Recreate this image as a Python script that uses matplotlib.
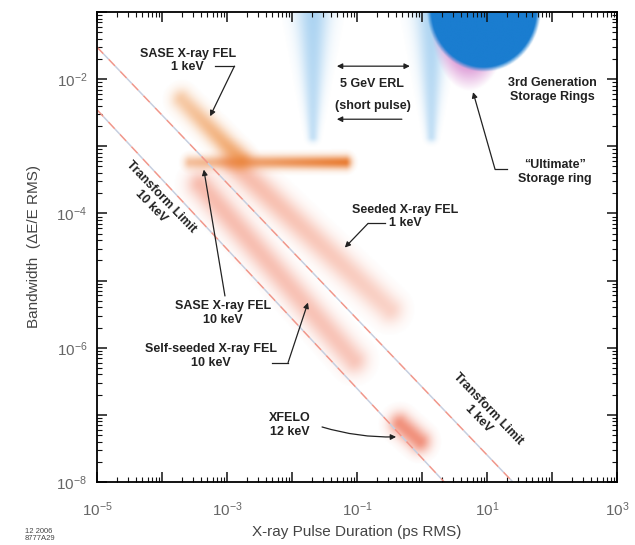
import numpy as np
import matplotlib
matplotlib.use("Agg")
import matplotlib.pyplot as plt
from matplotlib.ticker import FixedLocator, LogLocator, FuncFormatter, NullFormatter

plt.rcParams["font.family"] = ["Liberation Sans", "DejaVu Sans"]
plt.rcParams["mathtext.default"] = "regular"

# axis ranges: pulse duration (ps RMS) and relative bandwidth (dE/E RMS)
t_range = (1e-5, 1e3)
bw_range = (1e-8, 1e-1)

# transform-limit lines (end points)
tl_t = [[1e-5, 25.0], [1e-5, 2.2]]
tl_bw = [[3.0e-2, 1e-8], [3.5e-3, 1e-8]]

# FEL type sources: streak from (t0, bw0) to (t1, bw1), spread in decades
src_names = ["SASE X-ray FEL 1 keV", "SASE X-ray FEL 10 keV", "Seeded X-ray FEL 1 keV",
             "Self-seeded X-ray FEL 10 keV", "XFELO 12 keV"]
src_t0 = [2.0e-4, 2.7e-4, 1.3e-3, 3.9e-4, 0.46]
src_t1 = [1.6e-3, 6.6e-2, 0.32, 9.0e-2, 0.93]
src_bw0 = [5.0e-3, 5.8e-4, 5.4e-4, 2.7e-4, 7.3e-8]
src_bw1 = [6.4e-4, 5.8e-4, 3.7e-6, 6.5e-7, 4.0e-8]
src_spread = [0.16, 0.1, 0.21, 0.21, 0.17]

# 5 GeV ERL short-pulse modes
erl_t = [0.021, 1.4]
erl_bw_top = 0.13
erl_bw_low = 1.4e-3

# storage rings: centre and half-extent in decades
ring_t, ring_bw, ring_ext = 9.0, 0.11, (0.88, 0.93)
ult_t, ult_bw, ult_ext = 5.4, 0.075, (0.6, 1.05)

src_colors = ["#F0A060", "#E8782C", "#F5A690", "#F4A08C", "#EF8068"]
src_peak = [(0.55, 0.9), (0.45, 0.95), (0.75, 0.5), (0.7, 0.6), (0.85, 0.85)]
erl_color = "#96C8EE"
ring_color = "#1A7DD0"
ult_color = "#DE9ED8"
ink = "#222222"

fig = plt.figure(figsize=(6.35, 5.45), dpi=100)
rect = [97 / 635, 63 / 545, 520 / 635, 470 / 545]
ax_img = fig.add_axes(rect, zorder=0)
ax_img.set_axis_off()
ax = fig.add_axes(rect, zorder=1)
ax.patch.set_alpha(0)

# soft-edged regions painted on a grid in log-log space
lx0, lx1 = np.log10(t_range)
ly0, ly1 = np.log10(bw_range)
X, Y = np.meshgrid(np.linspace(lx0, lx1, 900), np.linspace(ly0, ly1, 800))
img = np.ones(X.shape + (3,))


def paint(alpha, color):
    global img
    c = np.array(matplotlib.colors.to_rgb(color))
    a = np.clip(alpha, 0, 1)
    a = np.where(a < 0.02, 0.0, a)[..., None]
    img = img * (1 - a) + c * a


def streak(t0, bw0, t1, bw1, w0, w1, p0, p1):
    x0, y0, x1, y1 = np.log10(t0), np.log10(bw0), np.log10(t1), np.log10(bw1)
    dx, dy = x1 - x0, y1 - y0
    s = np.clip(((X - x0) * dx + (Y - y0) * dy) / (dx * dx + dy * dy), 0, 1)
    dist = np.hypot(X - (x0 + s * dx), Y - (y0 + s * dy))
    w = w0 + (w1 - w0) * s
    return (p0 + (p1 - p0) * s) * np.exp(-(dist / w) ** 2)


def ellipse(t, bw, ext, soft, peak):
    r = np.hypot((X - np.log10(t)) / ext[0], (Y - np.log10(bw)) / ext[1])
    return peak * np.clip((1 - r) / soft, 0, 1)


for t in erl_t:
    paint(streak(t, erl_bw_top, t, erl_bw_low, 0.27, 0.08, 0.8, 0.55), erl_color)
paint(ellipse(ult_t, ult_bw, ult_ext, 0.3, 0.9), ult_color)
paint(ellipse(ring_t, ring_bw, ring_ext, 0.08, 1.0), ring_color)

for i in [3, 2, 0, 1, 4]:
    sp = src_spread[i]
    paint(streak(src_t0[i], src_bw0[i], src_t1[i], src_bw1[i], sp, sp, *src_peak[i]),
          src_colors[i])

ax_img.imshow(img, extent=(lx0, lx1, ly0, ly1), origin="lower", aspect="auto",
              interpolation="bilinear")
ax_img.set_xlim(lx0, lx1)
ax_img.set_ylim(ly0, ly1)

# transform limits
for tt, bb in zip(tl_t, tl_bw):
    ax.plot(tt, bb, color="#F0968A", gapcolor="#C6CEDF", lw=1.1,
            linestyle=(0, (6, 5)))

ax.set_xscale("log")
ax.set_yscale("log")
ax.set_xlim(*t_range)
ax.set_ylim(*bw_range)

x_labelled = [-5, -3, -1, 1, 3]
y_labelled = [-8, -6, -4, -2]


def fmt(labelled):
    def f(v, _):
        e = int(round(np.log10(v)))
        return f"$10^{{{e}}}$" if e in labelled else ""
    return FuncFormatter(f)


ax.xaxis.set_major_locator(FixedLocator([10.0 ** e for e in range(-5, 4)]))
ax.yaxis.set_major_locator(FixedLocator([10.0 ** e for e in range(-8, 0)]))
ax.xaxis.set_major_formatter(fmt(x_labelled))
ax.yaxis.set_major_formatter(fmt(y_labelled))
for a in (ax.xaxis, ax.yaxis):
    a.set_minor_locator(LogLocator(base=10, subs=np.arange(2, 10), numticks=20))
    a.set_minor_formatter(NullFormatter())
ax.tick_params(which="both", direction="in", top=True, right=True, colors="#111",
               labelcolor="#666", labelsize=11)
ax.tick_params(which="major", length=7, width=1.1)
ax.tick_params(axis="x", which="major", pad=13)
ax.tick_params(axis="y", which="major", pad=7)
ax.tick_params(which="minor", length=3.5, width=0.8)
for sp in ax.spines.values():
    sp.set_linewidth(1.3)

ax.set_xlabel("X-ray Pulse Duration (ps RMS)", fontsize=11, color="#444", labelpad=4.5)
ax.set_ylabel("Bandwidth  (\u0394E/E RMS)", fontsize=11, color="#444", labelpad=11)

lab = dict(fontsize=9, fontweight="bold", color=ink, ha="center", va="center",
           linespacing=1.2)


def leader(pts, style="-|>"):
    if len(pts) > 2:
        ax.plot([p[0] for p in pts[:-1]], [p[1] for p in pts[:-1]], color=ink, lw=0.9)
    ax.annotate("", xy=pts[-1], xytext=pts[-2],
                arrowprops=dict(arrowstyle=style, color=ink, lw=0.9,
                                mutation_scale=8, shrinkA=0, shrinkB=0))


ax.text(2.5e-4, 1.9e-2, "SASE X-ray FEL\n1 keV", **lab)
leader([(6.6e-4, 1.56e-2), (1.3e-3, 1.56e-2), (5.5e-4, 2.8e-3)])

ax.text(0.17, 8.4e-3, "5 GeV ERL", **lab)
ax.text(0.176, 3.95e-3, "(short pulse)", **lab)
leader([(0.049, 1.56e-2), (0.65, 1.56e-2)], style="<|-|>")
leader([(0.49, 2.53e-3), (0.049, 2.53e-3)])

ax.text(103, 6.8e-3, "3rd Generation\nStorage Rings", **lab)
ax.text(112, 4.1e-4, "\u201cUltimate\u201d\nStorage ring", **lab)
leader([(20.3, 4.54e-4), (13.3, 4.54e-4), (6.1, 6.4e-3)])

ax.text(0.547, 9.0e-5, "Seeded X-ray FEL\n1 keV", **lab)
leader([(0.27, 7.1e-5), (0.148, 7.1e-5), (0.065, 3.1e-5)])

ax.text(8.7e-4, 3.33e-6, "SASE X-ray FEL\n10 keV", **lab)
leader([(9.3e-4, 5.9e-6), (4.4e-4, 4.5e-4)])

ax.text(5.7e-4, 7.6e-7, "Self-seeded X-ray FEL\n10 keV", **lab)
leader([(4.9e-3, 6.0e-7), (8.7e-3, 6.0e-7), (0.0176, 4.7e-6)])

ax.text(9.3e-3, 7.1e-8, "XFELO\n12 keV", **lab)
ax.annotate("", xy=(0.40, 4.7e-8), xytext=(0.029, 6.6e-8),
            arrowprops=dict(arrowstyle="-|>", color=ink, lw=0.9, mutation_scale=8,
                            shrinkA=0, shrinkB=0, connectionstyle="arc3,rad=0.08"))

ax.text(8.1e-5, 1.5e-4, "Transform Limit\n10 keV", rotation=-46,
        rotation_mode="anchor", **lab)
ax.text(8.7, 1.04e-7, "Transform Limit\n1 keV", rotation=-46,
        rotation_mode="anchor", **lab)

fig.text(25 / 635, 1 - 535 / 545, "12 2006\n8777A29", fontsize=5.5, color="#444",
         ha="left", va="center", linespacing=1.0)

fig.savefig("out.png", dpi=100)
